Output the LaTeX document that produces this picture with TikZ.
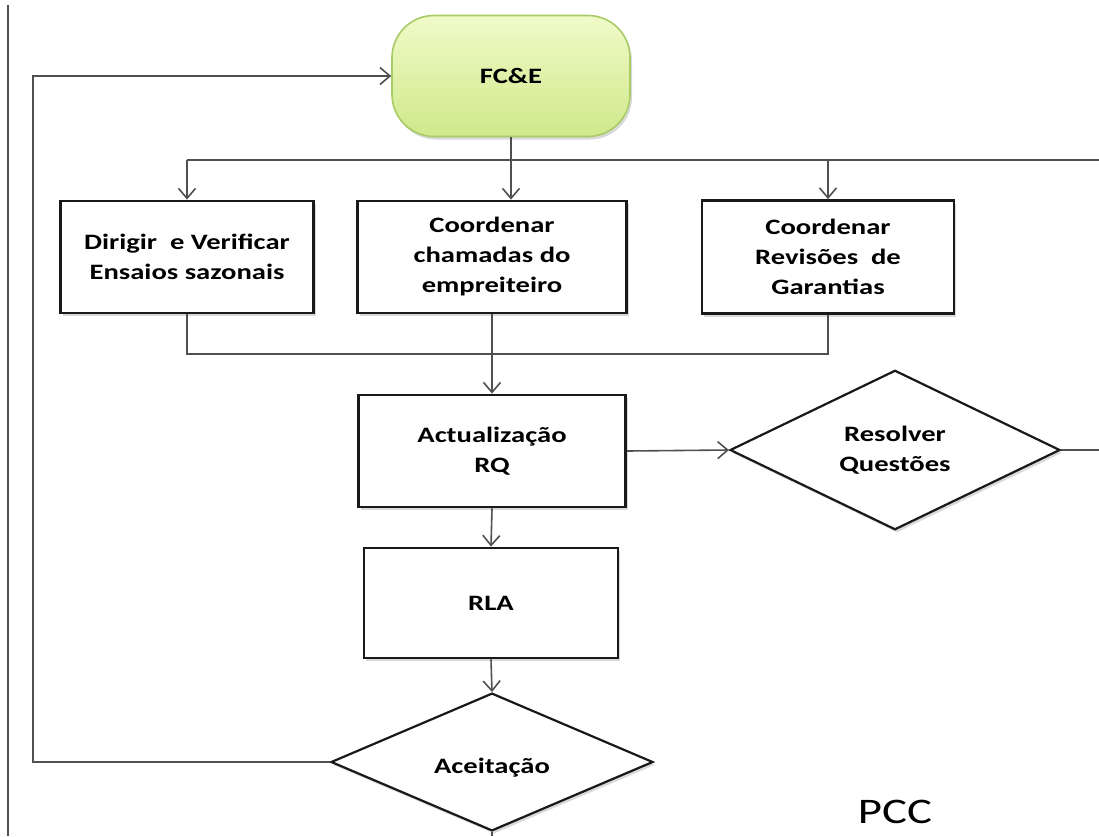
\documentclass[tikz,border=0pt]{standalone}
\usepackage{fontspec}
\newfontfamily\boxfont{Carlito}[FakeStretch=1.3]
\usetikzlibrary{shapes.geometric,shadows,arrows.meta}

\definecolor{fcetop}{HTML}{F0FAC8}
\definecolor{fcebot}{HTML}{CFE98A}
\definecolor{fceline}{HTML}{A9CB66}
\definecolor{wire}{HTML}{505050}

\tikzset{
  arr/.style={-{Straight Barb[length=10pt,width=17pt]}},
  wirestyle/.style={draw=wire,line width=1.6pt},
  task/.style={draw=black!90,line width=2.8pt,fill=white,align=center,inner sep=0pt,
    font=\boxfont\bfseries\fontsize{22}{30}\selectfont,
    drop shadow={opacity=.3,shadow xshift=2pt,shadow yshift=-3pt}},
  choice/.style={task,diamond,line width=2.2pt},
  start/.style={task,rounded corners=42pt,draw=fceline,line width=1.6pt,
    top color=fcetop,bottom color=fcebot}
}

\begin{document}
\begin{tikzpicture}[x=1pt,y=-1pt]
\useasboundingbox (0,0) rectangle (1099,836);

% nodes
\node[start,minimum width=238pt,minimum height=121pt] (fce) at (511,76) {FC\&E};
\node[task,minimum width=253pt,minimum height=112pt] (dirigir) at (187,257) {Dirigir\ \ e Verificar\\Ensaios sazonais};
\node[task,minimum width=269pt,minimum height=112pt] (chamadas) at (492,257) {Coordenar\\chamadas do\\empreiteiro};
\node[task,minimum width=252pt,minimum height=113pt] (garantias) at (828,257) {Coordenar\\Revisões\ \ de\\Garantias};
\node[task,minimum width=267pt,minimum height=112pt] (actual) at (492,451) {Actualização\\RQ};
\node[choice,minimum width=330pt,minimum height=125pt] (resolver) at (895,450) {Resolver\\Questões};
\node[task,minimum width=254pt,minimum height=110pt] (rla) at (491,603) {RLA};
\node[choice,minimum width=322pt,minimum height=128pt,text height=22pt,text depth=0pt] (aceit) at (492,762) {Aceitação};
\node[font=\boxfont\fontsize{36}{38}\selectfont] (pcc) at (895,812) {PCC};

\coordinate (split) at (510,160);
\coordinate (redge) at (1099,160);
\coordinate (merge) at (492,354);
\coordinate (loop) at (33,76);
\coordinate (bottom) at (492,836);

% connectors
\draw[wirestyle,arr] (fce.south) -- (fce.south |- chamadas.north);
\draw[wirestyle] (dirigir.north |- split) -- (redge);
\draw[wirestyle,arr] (dirigir.north |- split) -- (dirigir.north);
\draw[wirestyle,arr] (garantias.north |- split) -- (garantias.north);
\draw[wirestyle] (dirigir.south) |- (merge) -| (garantias.south);
\draw[wirestyle,arr] (chamadas.south) -- (actual.north);
\draw[wirestyle,arr] (actual.east) -- (resolver.west);
\draw[wirestyle] (resolver.east) -- (resolver.east -| redge);
\draw[wirestyle,arr] (actual.south) -- (rla.north);
\draw[wirestyle,arr] (rla.south) -- (aceit.north);
\draw[wirestyle] (aceit.south) -- (bottom);
\draw[wirestyle,arr] (aceit.west) -| (loop) -- (fce.west);

% frame line
\draw[wirestyle,line width=2pt] (8,5) -- (8,836);
\end{tikzpicture}
\end{document}
